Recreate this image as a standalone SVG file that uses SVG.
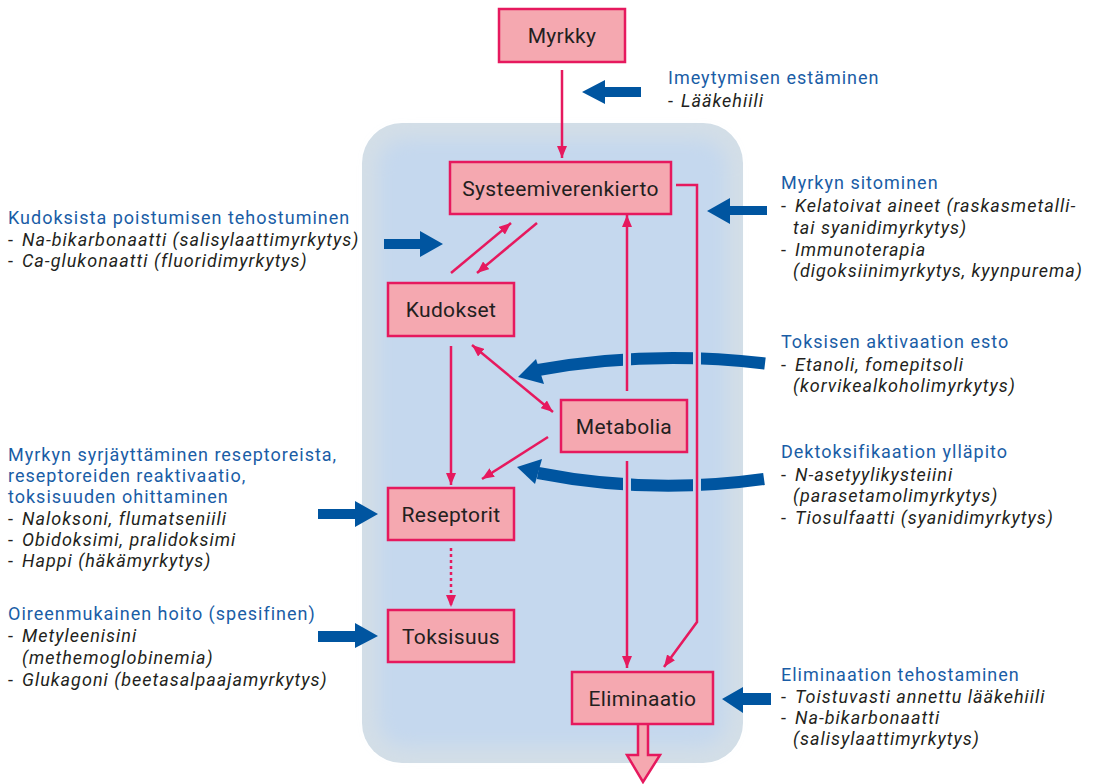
<svg xmlns="http://www.w3.org/2000/svg" width="1096" height="784" viewBox="0 0 1096 784">
<defs>
<style>
.box{fill:#f5a8b0;stroke:#e6195e;stroke-width:2.5}
.nl{font-family:Roboto,"Noto Sans",sans-serif;font-size:21px;letter-spacing:0.35px;fill:#231f20;text-anchor:middle}
.pk{fill:none;stroke:#e6195e;stroke-width:2.5}
.halo{fill:none;stroke:#c5d8ee;stroke-width:8}
.band{fill:none;stroke:#0055a0;stroke-width:12}
.ba{fill:#0055a0}
.h{font-family:Roboto,"Noto Sans",sans-serif;font-size:18px;letter-spacing:1px;fill:#1a5da6}
.t{font-family:Roboto,"Noto Sans",sans-serif;font-size:18px;letter-spacing:1px;fill:#231f20}
.i{font-style:italic}
</style>
<marker id="ah" viewBox="0 0 12 10" refX="12" refY="5" markerWidth="12" markerHeight="10" markerUnits="userSpaceOnUse" orient="auto-start-reverse">
<path d="M0,0 L12,5 L0,10 z" fill="#e6195e"/>
</marker>
<filter id="blur" x="-10%" y="-10%" width="120%" height="120%"><feGaussianBlur stdDeviation="9"/></filter>
</defs>

<g id="background">
<rect x="362" y="123" width="381" height="640" rx="40" fill="#d3dee7"/>
<rect x="378" y="139" width="349" height="608" rx="28" fill="#c5d8ee" filter="url(#blur)"/>
</g>

<g id="blue-arrows">
<polygon class="ba" points="641,87 605,87 605,80 582,92 605,104 605,97 641,97"/>
<polygon class="ba" points="384,239 420,239 420,231 443,244 420,257 420,249 384,249"/>
<polygon class="ba" points="767,206 730,206 730,198 707,211 730,224 730,215 767,215"/>
<polygon class="ba" points="318,509 355,509 355,501 378,514 355,527 355,519 318,519"/>
<polygon class="ba" points="318,631 355,631 355,623 378,636 355,648 355,642 318,642"/>
<polygon class="ba" points="771,693 743,693 743,687 722,699 743,713 743,705 771,705"/>
<path class="band" d="M765,363.5 Q650,350 538,370"/>
<polygon class="ba" points="518,377 536,359 544,384"/>
<path class="band" d="M764,479 Q650,495 538,473"/>
<polygon class="ba" points="517,467 542,459 535,484"/>
</g>

<g id="connectors">
<line class="halo" x1="627" y1="340" x2="627" y2="380"/>
<line class="halo" x1="697" y1="340" x2="697" y2="380"/>
<line class="halo" x1="627" y1="465" x2="627" y2="500"/>
<line class="halo" x1="697" y1="465" x2="697" y2="500"/>
<line class="pk" x1="562" y1="70" x2="562" y2="158" marker-end="url(#ah)"/>
<path class="pk" d="M676,185 H697 V622 L664,667" marker-end="url(#ah)"/>
<line class="pk" x1="451" y1="273" x2="511" y2="223" marker-end="url(#ah)"/>
<line class="pk" x1="537" y1="223" x2="477" y2="273" marker-end="url(#ah)"/>
<line class="pk" x1="627" y1="391" x2="627" y2="215" marker-end="url(#ah)"/>
<line class="pk" x1="472" y1="345" x2="553" y2="412" marker-start="url(#ah)" marker-end="url(#ah)"/>
<line class="pk" x1="451" y1="346" x2="451" y2="485" marker-end="url(#ah)"/>
<line class="pk" x1="548" y1="437" x2="482" y2="479" marker-end="url(#ah)"/>
<line class="pk" x1="451" y1="548" x2="451" y2="607" stroke-dasharray="3 3" marker-end="url(#ah)"/>
<line class="pk" x1="627" y1="461" x2="627" y2="668" marker-end="url(#ah)"/>
<polygon points="638,720 648,720 648,755 660,755 643,782 627,755 638,755" fill="#f5a8b0" stroke="#e6195e" stroke-width="2.5"/>
</g>

<g id="node-myrkky"><rect class="box" x="499" y="9" width="126" height="53"/><text class="nl" x="562" y="43">Myrkky</text></g>
<g id="node-systeemiverenkierto"><rect class="box" x="450" y="162" width="221" height="52"/><text class="nl" x="560.5" y="196">Systeemiverenkierto</text></g>
<g id="node-kudokset"><rect class="box" x="388" y="283" width="126" height="53"/><text class="nl" x="451" y="317">Kudokset</text></g>
<g id="node-metabolia"><rect class="box" x="561" y="400" width="126" height="52"/><text class="nl" x="624" y="434">Metabolia</text></g>
<g id="node-reseptorit"><rect class="box" x="388" y="488" width="126" height="52"/><text class="nl" x="451" y="522">Reseptorit</text></g>
<g id="node-toksisuus"><rect class="box" x="388" y="610" width="126" height="52"/><text class="nl" x="451" y="644">Toksisuus</text></g>
<g id="node-eliminaatio"><rect class="box" x="572" y="672" width="141" height="52"/><text class="nl" x="642.5" y="706">Eliminaatio</text></g>

<g id="labels">
<text class="h" x="668" y="84">Imeytymisen estäminen</text>
<text class="t" x="668" y="107">-<tspan class="i" x="681">Lääkehiili</tspan></text>

<text class="h" x="8" y="224">Kudoksista poistumisen tehostuminen</text>
<text class="t" x="8" y="246">-<tspan class="i" x="22">Na-bikarbonaatti (salisylaattimyrkytys)</tspan></text>
<text class="t" x="8" y="267">-<tspan class="i" x="22">Ca-glukonaatti (fluoridimyrkytys)</tspan></text>

<text class="h" x="8" y="461">Myrkyn syrjäyttäminen reseptoreista,</text>
<text class="h" x="8" y="482">reseptoreiden reaktivaatio,</text>
<text class="h" x="8" y="503">toksisuuden ohittaminen</text>
<text class="t" x="8" y="525">-<tspan class="i" x="22">Naloksoni, flumatseniili</tspan></text>
<text class="t" x="8" y="546">-<tspan class="i" x="22">Obidoksimi, pralidoksimi</tspan></text>
<text class="t" x="8" y="567">-<tspan class="i" x="22">Happi (häkämyrkytys)</tspan></text>

<text class="h" x="8" y="620">Oireenmukainen hoito (spesifinen)</text>
<text class="t" x="8" y="642">-<tspan class="i" x="22">Metyleenisini</tspan></text>
<text class="t i" x="22" y="664">(methemoglobinemia)</text>
<text class="t" x="8" y="686">-<tspan class="i" x="22">Glukagoni (beetasalpaajamyrkytys)</tspan></text>

<text class="h" x="781" y="189">Myrkyn sitominen</text>
<text class="t" x="781" y="212">-<tspan class="i" x="795">Kelatoivat aineet (raskasmetalli-</tspan></text>
<text class="t i" x="793" y="234">tai syanidimyrkytys)</text>
<text class="t" x="781" y="256">-<tspan class="i" x="795">Immunoterapia</tspan></text>
<text class="t i" x="793" y="277">(digoksiinimyrkytys, kyynpurema)</text>

<text class="h" x="781" y="348">Toksisen aktivaation esto</text>
<text class="t" x="781" y="371">-<tspan class="i" x="795">Etanoli, fomepitsoli</tspan></text>
<text class="t i" x="793" y="392">(korvikealkoholimyrkytys)</text>

<text class="h" x="781" y="458">Dektoksifikaation ylläpito</text>
<text class="t" x="781" y="481">-<tspan class="i" x="795">N-asetyylikysteiini</tspan></text>
<text class="t i" x="793" y="502">(parasetamolimyrkytys)</text>
<text class="t" x="781" y="524">-<tspan class="i" x="795">Tiosulfaatti (syanidimyrkytys)</tspan></text>

<text class="h" x="781" y="681">Eliminaation tehostaminen</text>
<text class="t" x="781" y="703">-<tspan class="i" x="795">Toistuvasti annettu lääkehiili</tspan></text>
<text class="t" x="781" y="724">-<tspan class="i" x="795">Na-bikarbonaatti</tspan></text>
<text class="t i" x="793" y="745">(salisylaattimyrkytys)</text>
</g>
</svg>
